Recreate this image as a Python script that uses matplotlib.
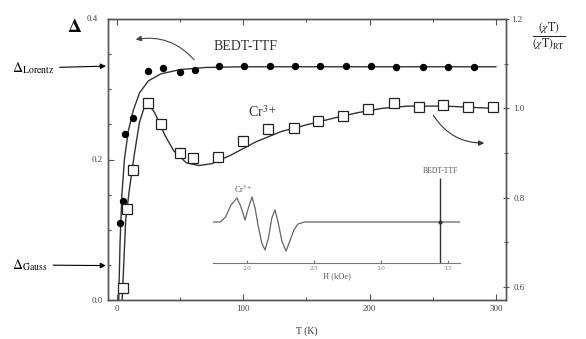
import numpy as np
import matplotlib
matplotlib.use('Agg')
import matplotlib.pyplot as plt

plt.rcParams['font.family'] = ['Liberation Serif', 'DejaVu Serif']
plt.rcParams['mathtext.fontset'] = 'stix'

# BEDT-TTF linewidth data (left axis)
bedt_T = [2.4, 4.6, 6.3, 12.7, 24.6, 36.5, 50, 62, 81, 101, 121, 141, 161, 181, 201, 221, 242, 262, 283]
bedt_D = [0.11, 0.141, 0.237, 0.259, 0.326, 0.330, 0.324, 0.327, 0.333, 0.333, 0.333, 0.333,
          0.333, 0.333, 0.333, 0.332, 0.332, 0.332, 0.332]
# fit line through BEDT-TTF points
bedt_fit_T = [1.5, 2.5, 4, 6, 9, 13, 18, 25, 35, 50, 70, 100, 300]
bedt_fit_D = [0.0, 0.08, 0.15, 0.2, 0.24, 0.27, 0.295, 0.312, 0.322, 0.328, 0.331, 0.332, 0.332]

# Cr3+ chi*T normalised (right axis)
cr_T = [4.8, 7.8, 12.7, 24.6, 35, 50, 60.5, 80, 100, 120, 140, 159, 179, 199, 219, 239, 258, 278, 298]
cr_X = [0.598, 0.775, 0.862, 1.011, 0.964, 0.899, 0.888, 0.892, 0.928, 0.953, 0.957, 0.971,
        0.982, 0.998, 1.013, 1.002, 1.007, 1.002, 1.002]
cr_fit_T = [4.2, 5, 7, 10, 14, 18, 22, 25, 30, 38, 45, 55, 65, 75, 90, 110, 130, 150, 170,
            190, 210, 230, 260, 298]
cr_fit_X = [0.571, 0.62, 0.75, 0.82, 0.9, 0.97, 1.005, 1.01, 0.99, 0.94, 0.905, 0.878, 0.872,
            0.876, 0.895, 0.925, 0.948, 0.963, 0.977, 0.99, 1.0, 1.005, 1.005, 1.0]

# inset EPR spectrum
epr_H = [1.75, 1.80, 1.84, 1.88, 1.925, 1.955, 1.985, 2.01, 2.037, 2.06, 2.082, 2.11, 2.134,
         2.16, 2.185, 2.209, 2.23, 2.26, 2.291, 2.32, 2.35, 2.38, 2.43, 3.44, 3.59]
epr_S = [41, 41, 46, 58, 65, 56, 43, 55, 66, 55, 38, 20, 13, 25, 45, 53, 42, 22, 12, 22, 33,
         39, 41, 41, 41]
bedt_H = 3.44
h_ticks = [2.0, 2.5, 3.0, 3.5]

W, H = 586, 339
fig = plt.figure(figsize=(W / 100, H / 100), dpi=100)
ax = fig.add_axes([108 / W, 1 - 300 / H, 398 / W, 281 / H])
ax2 = ax.twinx()

gray = '#333333'
ax.plot(bedt_fit_T, bedt_fit_D, '-', color=gray, lw=1.0)
ax.plot(bedt_T, bedt_D, 'o', color='black', ms=4.3)
ax2.plot(cr_fit_T, cr_fit_X, '-', color=gray, lw=1.0)
ax2.plot(cr_T, cr_X, 's', mfc='white', mec='#222222', mew=0.9, ms=7)

ax.set_xlim(-7, 308)
ax.set_ylim(0, 0.4)
ax2.set_ylim(0.571, 1.2)
ax.set_xticks([0, 100, 200, 300])
ax.set_xticks([50, 150, 250], minor=True)
ax.set_yticks([0.0, 0.2, 0.4])
ax.set_yticklabels(['0.0', '0.2', ''])
ax.set_yticks(np.arange(0, 0.41, 0.05), minor=True)
ax2.set_yticks([0.6, 0.8, 1.0, 1.2])
ax2.set_yticklabels(['0.6', '0.8', '1.0', ''])
ax2.set_yticks([0.7, 0.9, 1.1], minor=True)
for a in (ax, ax2):
    a.tick_params(which='both', direction='in', top=True, labelsize=6.5, colors='#555555',
                  labelcolor='#444444', width=0.8)
    a.tick_params(which='major', length=4)
    a.tick_params(which='minor', length=2.5)
    for s in a.spines.values():
        s.set_color('#555555')
        s.set_linewidth(1.0)
ax2.tick_params(which='both', direction='inout')
ax.set_xlabel('T (K)', fontsize=7, color='#333333', labelpad=10)

# texts around axes
fig.text(92 / W, 1 - 19 / H, '0.4', fontsize=6.5, color='#444444', ha='center', va='center')
fig.text(517 / W, 1 - 20 / H, '1.2', fontsize=6.5, color='#444444', ha='center', va='center')
fig.text(75 / W, 1 - 27 / H, r'$\mathbf{\Delta}$', fontsize=14, ha='center', va='center')
fig.text(549 / W, 1 - 36 / H, r'$\frac{(\chi\mathrm{T})}{(\chi\mathrm{T})_{\mathrm{RT}}}$',
         fontsize=12, ha='center', va='center', color='#222222')

ax.annotate(r'$\Delta_{\mathrm{Lorentz}}$', xy=(-7.5, 0.333), xycoords='data',
            xytext=(12 / W, 1 - 68 / H), textcoords='figure fraction', fontsize=10,
            va='center', annotation_clip=False,
            arrowprops=dict(arrowstyle='-|>', color='black', lw=0.8, shrinkA=2, shrinkB=1,
                            mutation_scale=8))
ax.annotate(r'$\Delta_{\mathrm{Gauss}}$', xy=(-7.5, 0.049), xycoords='data',
            xytext=(12 / W, 1 - 265 / H), textcoords='figure fraction', fontsize=10,
            va='center', annotation_clip=False,
            arrowprops=dict(arrowstyle='-|>', color='black', lw=0.8, shrinkA=2, shrinkB=1,
                            mutation_scale=8))

# curved arrows
fig.text(246 / W, 1 - 46 / H, 'BEDT-TTF', fontsize=10, ha='center', va='center', color='#333333')
ax.annotate('', xy=(133 / W, 1 - 40 / H), xycoords='figure fraction',
            xytext=(196 / W, 1 - 62 / H), textcoords='figure fraction',
            arrowprops=dict(arrowstyle='-|>', color='#444444', lw=0.8, mutation_scale=8,
                            connectionstyle='arc3,rad=0.3'))
fig.text(262 / W, 1 - 112 / H, r'Cr$^{3+}$', fontsize=10, ha='center', va='center', color='#333333')
ax.annotate('', xy=(487 / W, 1 - 143 / H), xycoords='figure fraction',
            xytext=(432 / W, 1 - 113 / H), textcoords='figure fraction',
            arrowprops=dict(arrowstyle='-|>', color='#333333', lw=0.8, mutation_scale=8,
                            connectionstyle='arc3,rad=0.3'))

# inset spectrum
ins = fig.add_axes([213 / W, 1 - 263 / H, 247 / W, 85 / H])
ins.patch.set_alpha(0)
ins.plot(epr_H, epr_S, '-', color='#666666', lw=0.9)
ins.vlines(bedt_H, 0, 85, color='#333333', lw=1.0)
ins.plot([bedt_H], [41], 'o', color='#333333', ms=2)
ins.set_xlim(1.746, 3.59)
ins.set_ylim(0, 85)
ins.set_xticks(h_ticks)
ins.set_xticklabels([f'{h:.1f}' for h in h_ticks])
ins.set_yticks([])
for k in ('top', 'left', 'right'):
    ins.spines[k].set_visible(False)
ins.spines['bottom'].set_color('#777777')
ins.tick_params(direction='in', length=2, labelsize=5, colors='#777777', pad=2)
ins.set_xlabel('H (kOe)', fontsize=6, color='#555555', labelpad=1)
ins.text(1.97, 70, r'Cr$^{3+}$', fontsize=6, color='#555555', ha='center')
ins.text(bedt_H, 88, 'BEDT-TTF', fontsize=5.5, color='#555555', ha='center', va='bottom')

fig.savefig('out.png', dpi=100)
